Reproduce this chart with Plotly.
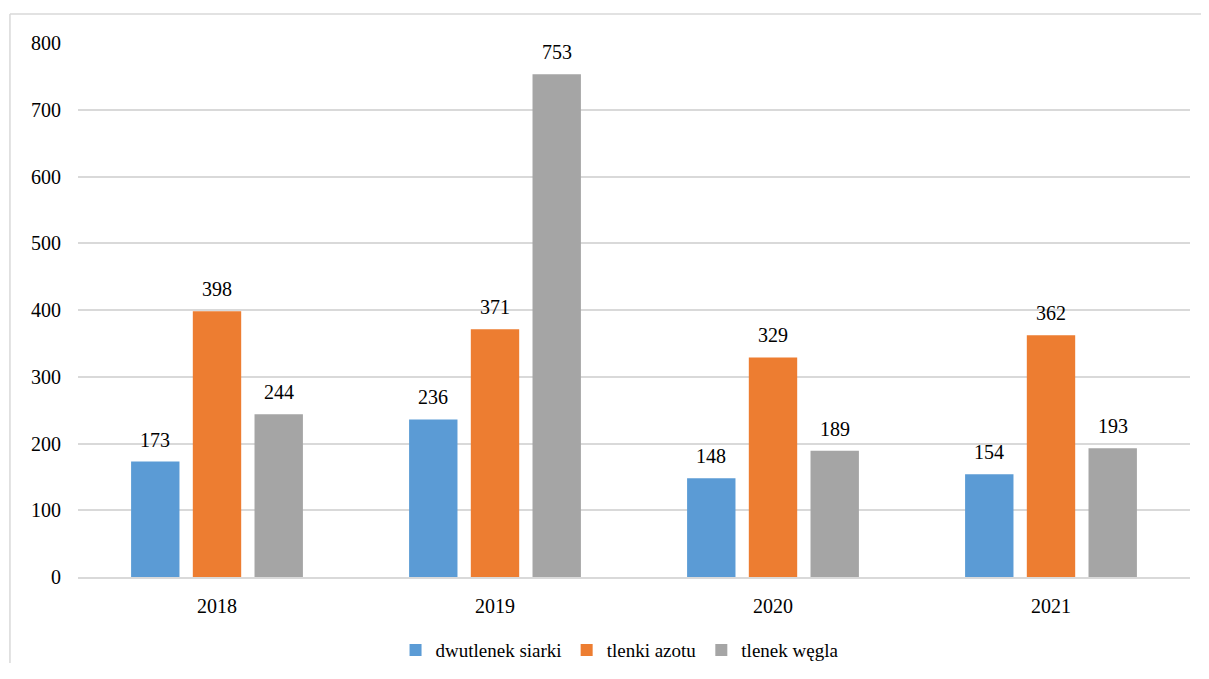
import plotly.graph_objects as go

years = ["2018", "2019", "2020", "2021"]
series_names = ["dwutlenek siarki", "tlenki azotu", "tlenek węgla"]
so2 = [173, 236, 148, 154]
nox = [398, 371, 329, 362]
co = [244, 753, 189, 193]
colors = ["#5B9BD5", "#ED7D31", "#A5A5A5"]
y_ticks = [0, 100, 200, 300, 400, 500, 600, 700, 800]

FONT = "Liberation Serif"
bargap = 0.334
slot = (1 - bargap) / 3

fig = go.Figure()
annotations = []
for j, (name, vals, col) in enumerate(zip(series_names, [so2, nox, co], colors)):
    fig.add_trace(go.Bar(x=years, y=vals, name=name, marker=dict(color=col, line=dict(width=0))))
    for i, v in enumerate(vals):
        annotations.append(dict(
            x=i + (j - 1) * slot, y=v, xref="x", yref="y", text=str(v),
            showarrow=False, yshift=22, yanchor="middle",
            font=dict(family=FONT, size=20, color="#000000")))

frame = dict(color="#D9D9D9", width=1.5)
fig.update_layout(
    width=1193, height=655,
    margin=dict(l=70, r=11, t=35, b=86, autoexpand=False),
    paper_bgcolor="white", plot_bgcolor="white",
    barmode="group", bargap=bargap, bargroupgap=0.216,
    font=dict(family=FONT, size=20, color="#000000"),
    annotations=annotations,
    legend=dict(orientation="h", x=0.487, xanchor="center", y=-0.137, yanchor="middle",
                font=dict(family=FONT, size=19, color="#000000"), itemwidth=30,
                traceorder="normal"),
    showlegend=True,
    shapes=[
        dict(type="line", xref="paper", yref="paper", x0=-0.0612, x1=1.3, y0=1.0543, y1=1.0543,
             line=frame, layer="below"),
        dict(type="line", xref="paper", yref="paper", x0=-0.0612, x1=-0.0612, y0=-0.6, y1=1.0543,
             line=frame, layer="below"),
    ],
)
fig.update_yaxes(range=[0, 800], tickvals=y_ticks, showgrid=True, gridcolor="#D9D9D9",
                 gridwidth=1.5, zeroline=False, showline=False, ticks="",
                 ticklabelstandoff=16, tickfont=dict(family=FONT, size=20))
fig.update_xaxes(showgrid=False, showline=True, linecolor="#D9D9D9", linewidth=1.5,
                 ticks="", ticklabelstandoff=10, tickfont=dict(family=FONT, size=20))

fig.write_html("out.html")
